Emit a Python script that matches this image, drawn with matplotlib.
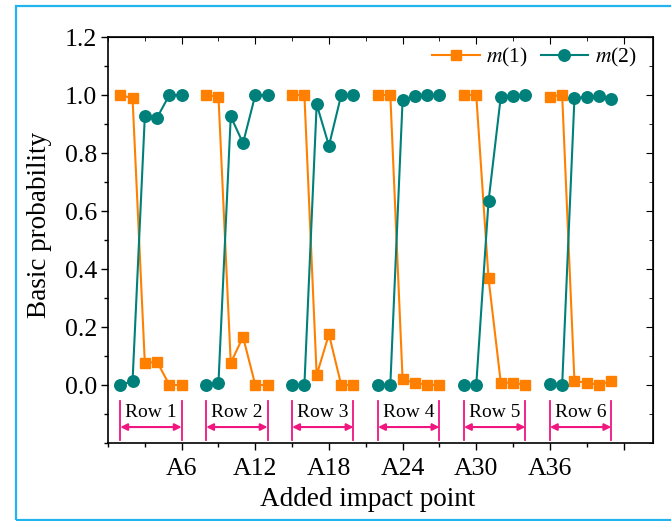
import matplotlib
matplotlib.use("Agg")
import matplotlib.pyplot as plt
from matplotlib.patches import Rectangle
from matplotlib.ticker import MultipleLocator

plt.rcParams["font.family"] = ["Liberation Serif", "DejaVu Serif"]
plt.rcParams["mathtext.fontset"] = "stix"

# Six rows of six impact points each; rows are separated by one empty slot on the x axis
row_names = ["Row 1", "Row 2", "Row 3", "Row 4", "Row 5", "Row 6"]
row_starts = [1, 8, 15, 22, 29, 36]

m1 = [
    [1.000, 0.989, 0.076, 0.080, 0.000, 0.000],
    [1.000, 0.994, 0.076, 0.166, 0.000, 0.000],
    [1.000, 1.000, 0.034, 0.175, 0.000, 0.000],
    [1.000, 1.000, 0.019, 0.008, 0.000, 0.000],
    [1.000, 1.000, 0.368, 0.008, 0.008, 0.000],
    [0.994, 1.000, 0.013, 0.008, 0.000, 0.014],
]
m2 = [
    [0.000, 0.013, 0.926, 0.922, 1.000, 1.000],
    [0.000, 0.008, 0.926, 0.834, 1.000, 1.000],
    [0.000, 0.000, 0.968, 0.825, 1.000, 1.000],
    [0.000, 0.000, 0.983, 0.996, 1.000, 1.000],
    [0.000, 0.000, 0.633, 0.994, 0.996, 1.000],
    [0.005, 0.000, 0.989, 0.994, 0.998, 0.987],
]

tick_pos = [6, 12, 18, 24, 30, 36, 42]
tick_labels = ["A6", "A12", "A18", "A24", "A30", "A36", ""]
ytick_pos = [0.0, 0.2, 0.4, 0.6, 0.8, 1.0, 1.2]
ytick_labels = ["0.0", "0.2", "0.4", "0.6", "0.8", "1.0", "1.2"]

orange = "#FF8000"
teal = "#00807A"
pink = "#F0157F"

fig = plt.figure(figsize=(6.71, 5.21), dpi=100)
ax = fig.add_axes([108 / 671, 78 / 521, 545 / 671, 406 / 521])

for i, start in enumerate(row_starts):
    xs = list(range(start, start + len(m1[i])))
    ax.plot(xs, m1[i], color=orange, lw=1.5, marker="s", ms=7.8,
            label="$m$(1)" if i == 0 else None, zorder=3)
    ax.plot(xs, m2[i], color=teal, lw=1.5, marker="o", ms=8.3,
            label="$m$(2)" if i == 0 else None, zorder=3)

    # Row bracket: boundary lines, double arrow and row name
    x0, x1 = xs[0], xs[-1]
    for xb in (x0, x1):
        ax.plot([xb, xb], [-0.055, -0.19], color=pink, lw=1.3, zorder=2)
    ax.annotate("", xy=(x0, -0.145), xytext=(x1, -0.145),
                arrowprops=dict(arrowstyle="<|-|>", color=pink, lw=1.5,
                                shrinkA=0, shrinkB=0, mutation_scale=10))
    ax.text((x0 + x1) / 2, -0.095, row_names[i], ha="center", va="center",
            fontsize=14)

ax.set_xlim(0, 44.4)
ax.set_ylim(-0.2, 1.2)
ax.set_yticks(ytick_pos)
ax.set_yticklabels(ytick_labels)
ax.yaxis.set_minor_locator(MultipleLocator(0.1))
ax.set_xticks(tick_pos)
ax.set_xticklabels(tick_labels)
ax.xaxis.set_minor_locator(MultipleLocator(3))

ax.tick_params(axis="both", which="major", direction="out", length=5, width=1,
               labelsize=18.5, top=False, right=False, pad=3)
ax.tick_params(axis="x", which="major", pad=6)
ax.tick_params(axis="both", which="minor", direction="out", length=3, width=1,
               top=False, right=False)

# Inward ticks on the top and right frame
axt = ax.secondary_xaxis("top")
axt.set_xticks(tick_pos)
axt.xaxis.set_minor_locator(MultipleLocator(3))
axt.tick_params(which="major", direction="in", length=5, labeltop=False)
axt.tick_params(which="minor", direction="in", length=3)
axr = ax.secondary_yaxis("right")
axr.set_yticks(ytick_pos)
axr.yaxis.set_minor_locator(MultipleLocator(0.1))
axr.tick_params(which="major", direction="in", length=5, labelright=False)
axr.tick_params(which="minor", direction="in", length=3)

for s in ax.spines.values():
    s.set_linewidth(1.2)

ax.set_xlabel("Added impact point", fontsize=19.5)
ax.xaxis.set_label_coords(0.477, -0.108)
ax.set_ylabel("Basic probability", fontsize=19.5)
ax.yaxis.set_label_coords(-0.103, 0.537)

ax.legend(loc="upper right", bbox_to_anchor=(0.985, 1.0), ncol=2,
          frameon=False, fontsize=15.5, handlelength=2.2, columnspacing=0.6,
          handletextpad=0.3, borderaxespad=0.0)

# Outer frame around the figure
fig.patches.append(Rectangle((16 / 671, 1.5 / 521), 1.0, 514 / 521,
                             transform=fig.transFigure, fill=False,
                             edgecolor="#22B4EE", lw=1.6))

fig.savefig("out.png", dpi=100)
